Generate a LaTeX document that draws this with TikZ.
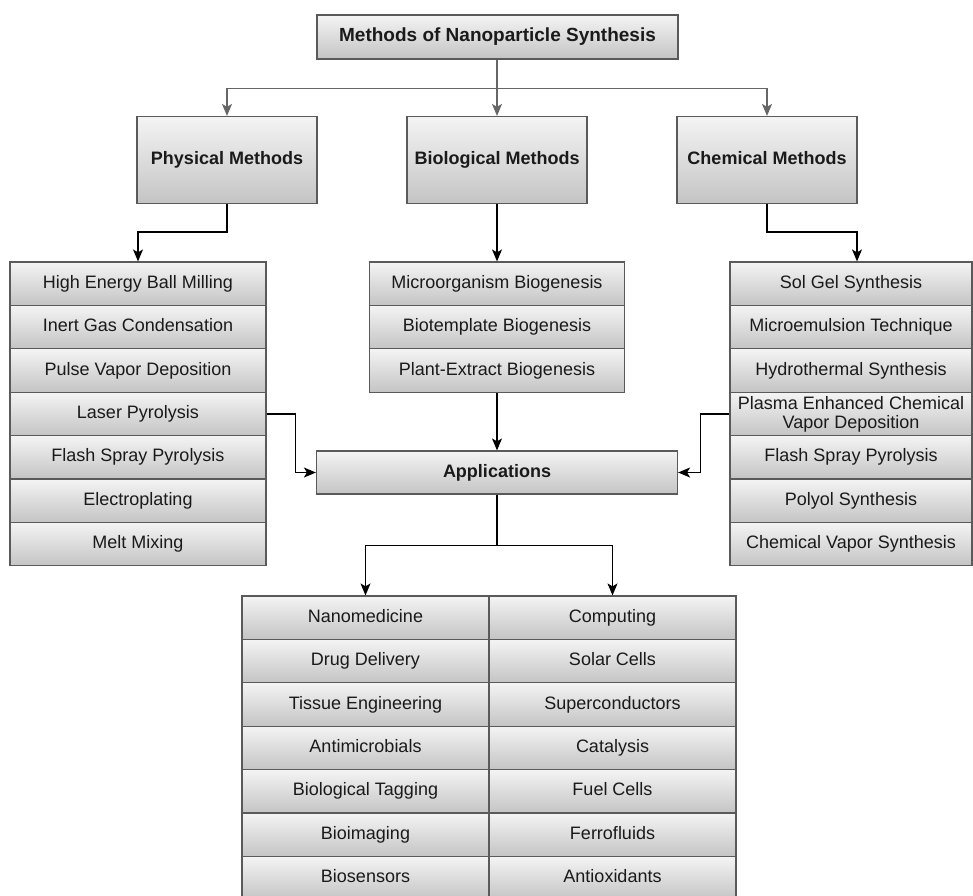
\documentclass[tikz,border=0pt]{standalone}
\usepackage{fontspec}
\setmainfont{Liberation Sans}
\usetikzlibrary{arrows.meta}
\definecolor{boxline}{HTML}{5A5A5A}
\definecolor{boxtop}{HTML}{F4F4F4}
\definecolor{boxbot}{HTML}{C4C4C4}
\definecolor{txt}{HTML}{1A1A1A}
\definecolor{garrow}{HTML}{666666}
\tikzset{
  gbox/.style={draw=boxline, line width=1.2pt, top color=boxtop, bottom color=boxbot,
    inner sep=0pt, align=center, text=txt, font=\fontsize{18}{19}\selectfont,
    execute at begin node={\vphantom{Ag}}},
  rowbox/.style={gbox, minimum height=43.4pt},
  headbox/.style={gbox, font=\fontsize{18}{19}\selectfont\bfseries},
  garr/.style={draw=garrow, line width=1.3pt, -{Stealth[length=12pt,width=10pt,inset=3pt,fill=garrow]}},
  barr/.style={draw=black, line width=1.3pt, -{Stealth[length=12pt,width=10pt,inset=3pt]}},
}
\begin{document}
\begin{tikzpicture}[x=1pt,y=-1pt]
\useasboundingbox (0,0) rectangle (973,895);
\clip (0,0) rectangle (973,895);
\fill[white] (0,0) rectangle (973,895);

% top
\node[headbox, minimum width=361pt, minimum height=44pt, font=\fontsize{19}{21}\selectfont\bfseries] (top) at (497.5,37) {Methods of Nanoparticle Synthesis};
% level 2
\node[headbox, minimum width=180pt, minimum height=87pt] (phys) at (227,160) {Physical Methods};
\node[headbox, minimum width=180pt, minimum height=87pt] (bio) at (497,160) {Biological Methods};
\node[headbox, minimum width=180pt, minimum height=87pt] (chem) at (767,160) {Chemical Methods};

% left list
\foreach \t [count=\i] in {High Energy Ball Milling, Inert Gas Condensation, Pulse Vapor Deposition, Laser Pyrolysis, Flash Spray Pyrolysis, Electroplating, Melt Mixing}
  \node[rowbox, minimum width=256pt] (L\i) at (138,{262+(\i-0.5)*43.4}) {\t};

% middle list
\foreach \t [count=\i] in {Microorganism Biogenesis, Biotemplate Biogenesis, Plant-Extract Biogenesis}
  \node[rowbox, minimum width=255pt] (M\i) at (497,{262+(\i-0.5)*43.4}) {\t};

% right list
\foreach \t [count=\i] in {Sol Gel Synthesis, Microemulsion Technique, Hydrothermal Synthesis, {Plasma Enhanced Chemical\\Vapor Deposition}, Flash Spray Pyrolysis, Polyol Synthesis, Chemical Vapor Synthesis}
  \node[rowbox, minimum width=242pt] (R\i) at (851,{262+(\i-0.5)*43.4}) {\t};

% applications
\node[headbox, minimum width=361pt, minimum height=43pt] (app) at (497,472.5) {Applications};

% bottom table
\foreach \t [count=\i] in {Nanomedicine, Drug Delivery, Tissue Engineering, Antimicrobials, Biological Tagging, Bioimaging, Biosensors}
  \node[rowbox, minimum width=247pt] (A\i) at (365.5,{596+(\i-0.5)*43.4}) {\t};
\foreach \t [count=\i] in {Computing, Solar Cells, Superconductors, Catalysis, Fuel Cells, Ferrofluids, Antioxidants}
  \node[rowbox, minimum width=247pt] (B\i) at (612.5,{596+(\i-0.5)*43.4}) {\t};

% connectors
\draw[garr] (top.south -| bio.north) -- (bio.north);
\draw[garr] (top.south -| bio.north) -- ++(0,29) -| (phys.north);
\draw[garr] (top.south -| bio.north) -- ++(0,29) -| (chem.north);

\draw[barr] (phys.south) -- ++(0,28) -| (L1.north);
\draw[barr] (bio.south) -- (M1.north);
\draw[barr] (chem.south) -- ++(0,28) -| ([xshift=6pt]R1.north);

\draw[barr] (L4.east) -- ++(29,0) |- (app.west);
\draw[barr] (R4.west) -- ++(-29,0) |- (app.east);
\draw[barr] (M3.south) -- (app.north);

\draw[barr] (app.south) -- ++(0,51) -| (A1.north);
\draw[barr] (app.south) -- ++(0,51) -| (B1.north);
\end{tikzpicture}
\end{document}
